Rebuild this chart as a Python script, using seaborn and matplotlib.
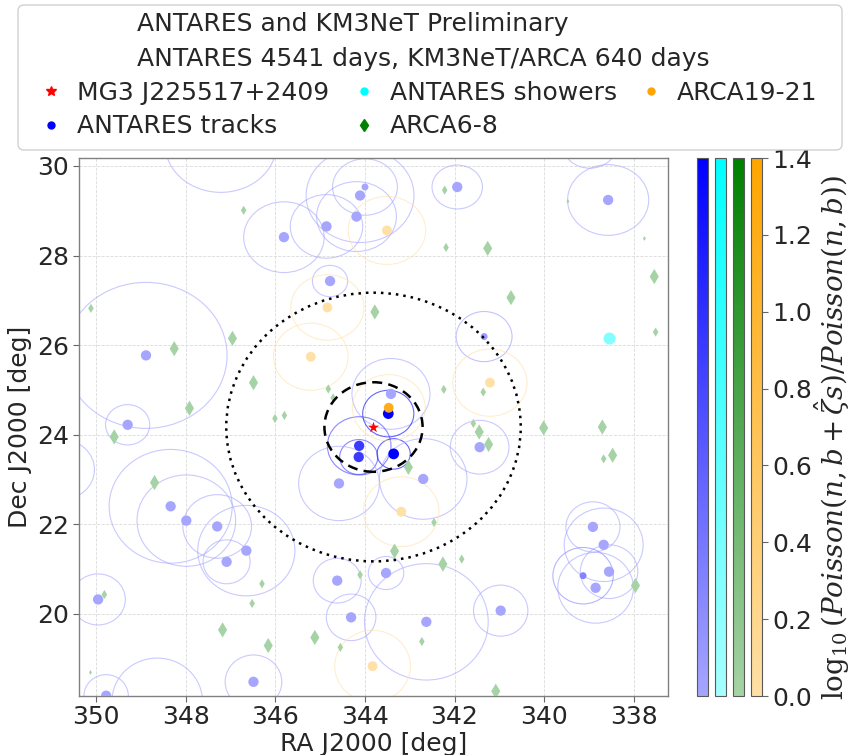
import numpy as np
import pandas as pd
import matplotlib
matplotlib.use("Agg")
import matplotlib.pyplot as plt
import matplotlib.cm as cm
import seaborn as sns
from matplotlib.patches import Ellipse, FancyBboxPatch
from matplotlib.colors import LinearSegmentedColormap, Normalize, to_rgb
from matplotlib.lines import Line2D

# ---------------- source ----------------
src_name = "MG3 J225517+2409"
src_ra, src_dec = 343.81, 24.17

# ---------------- ANTARES tracks: position, error radius [deg], TS value, marker size ----------------
trk_ra = [348.89, 349.30, 345.81, 344.86, 344.19, 344.11, 344.00, 344.78, 347.22, 341.94,
          338.57, 338.98, 341.34, 343.42, 343.48, 344.13, 344.14, 343.36, 344.58, 342.70,
          341.44, 348.34, 347.99, 347.30, 346.65, 347.09, 349.96, 349.78, 348.64, 346.49,
          344.62, 344.31, 350.77, 343.53, 342.63, 340.97, 338.91, 338.67, 338.55, 339.13,
          338.85]
trk_dec = [25.77, 24.22, 28.41, 28.65, 28.87, 29.34, 29.53, 27.43, 30.48, 29.53,
           29.24, 30.47, 26.19, 24.91, 24.47, 23.75, 23.50, 23.57, 22.91, 23.01,
           23.72, 22.40, 22.08, 21.95, 21.41, 21.16, 20.32, 18.17, 18.05, 18.48,
           20.74, 19.92, 23.22, 20.91, 19.82, 20.07, 21.94, 21.54, 20.94, 20.85,
           20.58]
trk_err = [1.63, 0.45, 0.79, 0.71, 0.78, 1.05, 0.63, 0.35, 1.07, 0.49,
           0.79, 0.52, 0.56, 0.79, 0.52, 0.65, 0.39, 0.34, 0.83, 0.90,
           0.60, 1.27, 1.02, 0.71, 1.01, 0.49, 0.57, 0.47, 0.96, 0.60,
           0.50, 0.52, 0.67, 0.37, 1.30, 0.57, 0.56, 0.82, 0.60, 0.63,
           0.79]
trk_val = [0.0, 0.0, 0.0, 0.0, 0.0, 0.0, 0.0, 0.0, 0.0, 0.0,
           0.0, 0.0, 0.1, 0.0, 1.4, 0.9, 0.9, 1.4, 0.0, 0.0,
           0.0, 0.0, 0.0, 0.0, 0.0, 0.0, 0.0, 0.0, 0.0, 0.0,
           0.0, 0.0, 0.0, 0.0, 0.0, 0.0, 0.0, 0.0, 0.0, 0.3,
           0.0]
trk_size = [55, 55, 55, 55, 55, 55, 25, 55, 55, 55,
            55, 55, 25, 55, 60, 55, 55, 60, 55, 55,
            55, 55, 55, 55, 55, 55, 55, 55, 55, 55,
            55, 55, 55, 55, 55, 55, 55, 55, 55, 25,
            55]

# ---------------- ANTARES showers ----------------
shw_ra = [338.55]
shw_dec = [26.15]
shw_val = [0.3]

# ---------------- ARCA6-8 ----------------
a68_ra = [350.12, 346.71, 348.26, 346.96, 347.92, 346.49, 349.60, 346.01, 345.80, 343.78,
          344.82, 344.71, 342.22, 339.47, 337.76, 342.19, 341.26, 337.54, 340.74, 337.51,
          342.24, 341.36, 340.01, 338.70, 341.58, 341.45, 341.24, 343.03, 348.70, 349.82,
          346.30, 346.52, 347.18, 346.16, 345.12, 344.55, 344.11, 350.13, 342.46, 343.34,
          342.26, 341.84, 342.73, 341.08, 338.67, 338.47, 337.96]
a68_dec = [26.82, 29.01, 25.92, 26.15, 24.59, 25.16, 23.95, 24.36, 24.43, 26.74,
           25.02, 24.82, 29.46, 29.21, 28.38, 28.18, 28.16, 27.53, 27.06, 26.29,
           25.01, 24.95, 24.15, 24.17, 24.25, 24.06, 23.78, 23.27, 22.93, 20.43,
           20.67, 20.23, 19.64, 19.29, 19.47, 19.25, 20.87, 18.69, 22.04, 21.40,
           21.11, 21.22, 19.38, 18.27, 23.46, 23.54, 20.63]
a68_size = [22, 22, 60, 60, 60, 60, 60, 22, 22, 60,
            22, 22, 22, 6, 6, 22, 60, 60, 60, 22,
            22, 22, 60, 60, 22, 60, 60, 60, 60, 22,
            22, 22, 60, 60, 60, 22, 22, 6, 22, 60,
            60, 22, 22, 60, 22, 60, 60]
a68_val = [0.0] * len(a68_ra)

# ---------------- ARCA19-21 ----------------
a19_ra = [344.84, 345.21, 343.51, 341.21, 343.47, 343.19, 343.83]
a19_dec = [26.84, 25.74, 28.56, 25.16, 24.60, 22.28, 18.83]
a19_err = [0.73, 0.75, 0.76, 0.75, 0.74, 0.78, 0.80]
a19_val = [0.0, 0.0, 0.0, 0.0, 1.2, 0.0, 0.0]

# search regions around the source [deg]
roi_inner, roi_outer = 1.0, 3.0
vmin, vmax = 0.0, 1.4

sns.set_style("ticks")
plt.rcParams["font.family"] = ["DejaVu Sans"]
plt.rcParams["mathtext.fontset"] = "dejavuserif"


def faded(name, color, lo=0.35):
    rgb = np.array(to_rgb(color))
    return LinearSegmentedColormap.from_list(name, [1 - lo * (1 - rgb), rgb])


cmap_trk = faded("trk", "blue")
cmap_shw = faded("shw", "cyan")
cmap_a68 = faded("a68", "green")
cmap_a19 = faded("a19", "orange")
norm = Normalize(vmin, vmax)

fig = plt.figure(figsize=(8.54, 7.55), dpi=100)
ax = fig.add_axes([0.0925, 0.0781, 0.6897, 0.7126])


def rings(ra, dec, err, val, cmap, alpha):
    for r, d, e, v in zip(ra, dec, err, val):
        w = 2 * e / np.cos(np.radians(d))
        ax.add_patch(Ellipse((r, d), w, 2 * e, fill=False, ec=cmap(norm(v)),
                             alpha=alpha, lw=0.8, zorder=2))


rings(trk_ra, trk_dec, trk_err, trk_val, cmap_trk, 0.6)
rings(a19_ra, a19_dec, a19_err, [0.0] * len(a19_ra), cmap_a19, 0.55)

cosd = np.cos(np.radians(src_dec))
for rad, ls in [(roi_inner, (0, (4, 2.5))), (roi_outer, (0, (1, 2)))]:
    ax.add_patch(Ellipse((src_ra, src_dec), 2 * rad / cosd, 2 * rad, fill=False,
                         ec="black", lw=1.8, ls=ls, zorder=4))

trk = pd.DataFrame({"ra": trk_ra, "dec": trk_dec, "val": trk_val, "s": trk_size})
shw = pd.DataFrame({"ra": shw_ra, "dec": shw_dec, "val": shw_val})
a68 = pd.DataFrame({"ra": a68_ra, "dec": a68_dec, "val": a68_val, "s": a68_size})
a19 = pd.DataFrame({"ra": a19_ra, "dec": a19_dec, "val": a19_val})

sns.scatterplot(data=trk, x="ra", y="dec", hue="val", palette=cmap_trk, hue_norm=(vmin, vmax),
                size="s", sizes=(25, 60), size_norm=(25, 60), linewidth=0,
                legend=False, ax=ax, zorder=3)
sns.scatterplot(data=shw, x="ra", y="dec", hue="val", palette=cmap_shw, hue_norm=(vmin, vmax),
                s=75, linewidth=0, legend=False, ax=ax, zorder=3)
sns.scatterplot(data=a68, x="ra", y="dec", hue="val", palette=cmap_a68, hue_norm=(vmin, vmax),
                size="s", sizes=(6, 60), size_norm=(6, 60), marker="d", linewidth=0,
                legend=False, ax=ax, zorder=3)
sns.scatterplot(data=a19, x="ra", y="dec", hue="val", palette=cmap_a19, hue_norm=(vmin, vmax),
                s=50, linewidth=0, legend=False, ax=ax, zorder=3)
ax.scatter([src_ra], [src_dec], marker="*", s=70, color="red", lw=0, zorder=5)

half_dec = 6.0
ax.set_xlim(src_ra + half_dec / cosd, src_ra - half_dec / cosd)
ax.set_ylim(src_dec - half_dec, src_dec + half_dec)
ax.set_aspect("equal", adjustable="box")
ax.set_xticks([350, 348, 346, 344, 342, 340, 338])
ax.set_yticks([20, 22, 24, 26, 28, 30])
ax.grid(True, ls="--", lw=0.6, color="0.86", zorder=0)
ax.set_axisbelow(True)
for sp in ax.spines.values():
    sp.set_color("0.5")
    sp.set_linewidth(1.0)
ax.tick_params(labelsize=18, length=4, color="0.4", pad=3)
ax.set_xlabel("RA J2000 [deg]", fontsize=18, labelpad=2)
ax.set_ylabel("Dec J2000 [deg]", fontsize=18, labelpad=4)

# colour scales, one per sample
cb_x = [697, 715, 733, 751]
for i, (x0, cmap) in enumerate(zip(cb_x, [cmap_trk, cmap_shw, cmap_a68, cmap_a19])):
    cax = fig.add_axes([x0 / 854, 0.0781, 11 / 854, 0.7126])
    cb = fig.colorbar(cm.ScalarMappable(norm=norm, cmap=cmap), cax=cax)
    cb.outline.set_edgecolor("0.35")
    cb.outline.set_linewidth(0.8)
    if i < 3:
        cb.set_ticks([])
    else:
        cb.set_ticks(np.arange(0, 1.41, 0.2))
        cb.ax.yaxis.set_major_formatter(matplotlib.ticker.FormatStrFormatter("%.1f"))
        cb.ax.tick_params(labelsize=18, length=4, color="0.4")
        cb.set_label(r"$\log_{10}(Poisson(n, b + \hat{\zeta}s)/Poisson(n, b))$",
                     fontsize=20)
        cb.ax.yaxis.set_label_coords(5.6, 0.48)

# legend frame spanning the full header
fig.add_artist(FancyBboxPatch((0.18, 6.05), 8.24, 1.45,
                              boxstyle="round,pad=0,rounding_size=0.06",
                              transform=fig.dpi_scale_trans, fc="white", ec="0.8",
                              lw=1.0, alpha=0.9, zorder=1))

handles = [
    Line2D([], [], ls="", marker="*", color="red", markersize=7),
    Line2D([], [], ls="", marker="o", color="blue", markersize=5),
    Line2D([], [], ls="", marker="o", color="cyan", markersize=5),
    Line2D([], [], ls="", marker="d", color="green", markersize=6),
    Line2D([], [], ls="", marker="o", color="orange", markersize=5),
]
labels = [src_name, "ANTARES tracks", "ANTARES showers", "ARCA6-8", "ARCA19-21"]
leg = fig.legend(handles, labels, ncol=3, loc="upper left",
                 bbox_to_anchor=(18.5 / 854, 1 - 2 / 755), borderaxespad=0.0,
                 title="ANTARES and KM3NeT Preliminary\nANTARES 4541 days, KM3NeT/ARCA 640 days",
                 fontsize=18, title_fontsize=18, handlelength=1.8, handletextpad=0.14,
                 columnspacing=0.48, frameon=False, labelspacing=0.38)
leg.get_title().set_linespacing(1.6)
leg.set_zorder(2)

fig.savefig("out.png", dpi=100)
